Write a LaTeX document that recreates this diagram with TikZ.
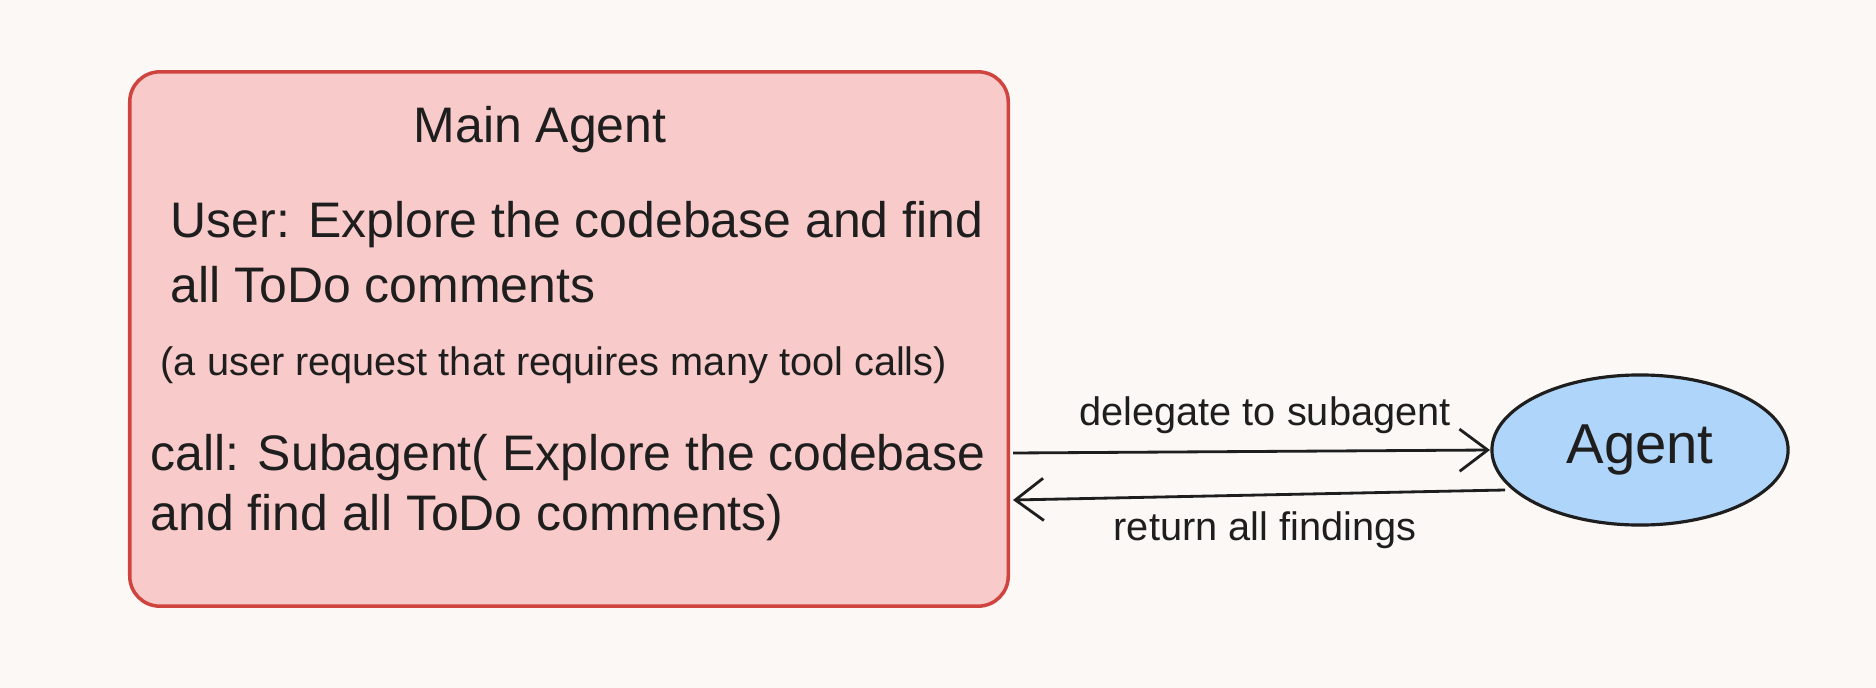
\documentclass[tikz,border=0pt]{standalone}
\usepackage{fontspec}
\setmainfont{Liberation Sans}
\usetikzlibrary{arrows.meta,shapes.geometric}
\definecolor{bg}{HTML}{FBF8F5}
\definecolor{boxfill}{HTML}{F8CBCA}
\definecolor{boxline}{HTML}{D0443F}
\definecolor{ellfill}{HTML}{AFD5FA}
\definecolor{ink}{HTML}{1E1E1E}
\tikzset{
 txt/.style={text=ink, inner sep=0pt, font=\fontsize{14.2}{17}\selectfont},
 small/.style={text=ink, inner sep=0pt, font=\fontsize{11.3}{13}\selectfont},
 conn/.style={draw=ink, line width=0.8pt, -{Straight Barb[length=8pt,width=12pt]}},
}
\begin{document}
\begin{tikzpicture}[x=0.01cm,y=-0.01cm]
\fill[bg] (0,0) rectangle (1876,688);
\useasboundingbox (0,0) rectangle (1876,688);
\node[draw=boxline, fill=boxfill, line width=1pt, rounded corners=0.3cm, minimum width=8.78cm, minimum height=5.34cm, inner sep=0pt] (main) at (569,339) {};
\node[ellipse, draw=ink, fill=ellfill, line width=0.9pt, minimum width=2.96cm, minimum height=1.5cm, inner sep=0pt] (agent) at (1640,450) {};
\node[txt] (agentlbl) at (1640,450) {\fontsize{16}{19}\selectfont Agent};
\node[txt] (title) at (540,130) {Main Agent};
\node[txt, anchor=west] (u1) at (170,225) {User: Explore the codebase and find};
\node[txt, anchor=west] (u2) at (170,285) {all ToDo comments};
\node[small, anchor=west] (req) at (160,365) {(a user request that requires many tool calls)};
\node[txt, anchor=west] (c1) at (150,458) {call: Subagent( Explore the codebase};
\node[txt, anchor=west] (c2) at (150,518) {and find all ToDo comments)};
\coordinate (d1) at (1013,453);
\coordinate (d2) at (1490,450);
\coordinate (r1) at (1505,490);
\coordinate (r2) at (1013,500);
\draw[conn] (d1) -- (d2);
\draw[conn] (r1) -- (r2);
\node[small] (dl) at (1265,415) {delegate to subagent};
\node[small] (rl) at (1265,530) {return all findings};
\end{tikzpicture}
\end{document}
